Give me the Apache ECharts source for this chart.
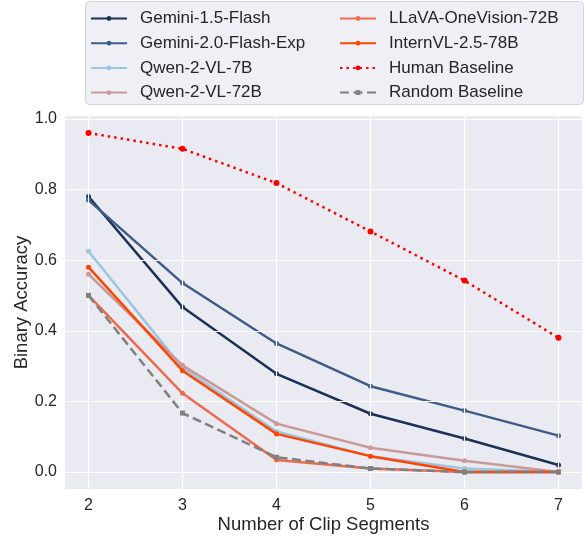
<!DOCTYPE html>
<html>
<head>
<meta charset="utf-8">
<script src="https://cdn.jsdelivr.net/npm/echarts@6/dist/echarts.min.js"></script>
<style>
  html, body { margin: 0; padding: 0; background: #fff; }
  #chart { width: 587px; height: 536px; }
</style>
</head>
<body>
<div id="chart"></div>
<script>
// clip segment counts
const segments = [2, 3, 4, 5, 6, 7]
const yTicks = [0, 0.2, 0.4, 0.6, 0.8, 1.0]

const gemini15 = [0.78, 0.467, 0.278, 0.165, 0.095, 0.02]
const gemini20 = [0.77, 0.535, 0.364, 0.243, 0.174, 0.103]
const qwen7b = [0.625, 0.295, 0.115, 0.045, 0.01, 0.0]
const qwen72b = [0.56, 0.302, 0.137, 0.069, 0.032, 0.0]
const llava72b = [0.5, 0.223, 0.034, 0.01, 0.0, 0.0]
const internvl78b = [0.58, 0.287, 0.108, 0.045, 0.0, 0.0]
const humanBase = [0.96, 0.915, 0.818, 0.681, 0.542, 0.38]
const randomBase = [0.5, 0.167, 0.042, 0.01, 0.0, 0.0]

const names = ['Gemini-1.5-Flash', 'Gemini-2.0-Flash-Exp', 'Qwen-2-VL-7B', 'Qwen-2-VL-72B',
    'LLaVA-OneVision-72B', 'InternVL-2.5-78B', 'Human Baseline', 'Random Baseline']
const values = [gemini15, gemini20, qwen7b, qwen72b, llava72b, internvl78b, humanBase, randomBase]
const colors = ['#1b3157', '#3f5c86', '#9bc6df', '#c89a98', '#ee6a4c', '#ff4500', '#ff0000', '#808080']

const pairs = arr => segments.map((s, i) => [s, arr[i]])

const series = names.map((name, i) => {
    let lineType = 'solid'
    if (name === 'Human Baseline') lineType = [2.5, 4]
    if (name === 'Random Baseline') lineType = [9, 4.5]
    return {
        name: name,
        type: 'line',
        data: pairs(values[i]),
        symbol: name === 'Random Baseline' ? 'rect' : 'circle',
        symbolSize: name === 'Human Baseline' ? 6 : 5,
        showSymbol: true,
        itemStyle: { color: colors[i] },
        lineStyle: { color: colors[i], width: 2.5, type: lineType },
        emphasis: { disabled: true },
        z: 3 + i
    }
})

// white grid lines like seaborn darkgrid
series.unshift({
    type: 'line',
    data: [],
    z: 1,
    silent: true,
    markLine: {
        silent: true,
        symbol: 'none',
        label: { show: false },
        lineStyle: { color: '#ffffff', width: 1.2, type: 'solid' },
        data: segments.map(s => ({ xAxis: s })).concat(yTicks.map(v => ({ yAxis: v })))
    }
})

const textColor = '#262626'
const legendCommon = {
    orient: 'vertical',
    top: 5,
    itemWidth: 36,
    itemHeight: 6,
    itemGap: 7.7,
    textStyle: { fontSize: 17, color: textColor, fontFamily: 'Liberation Sans', lineHeight: 17, padding: [0, 0, 0, 8] }
}

const isNear = (v, step) => Math.abs(v / step - Math.round(v / step)) < 1e-6

const myChart = echarts.init(document.getElementById('chart'))
myChart.setOption({
    animation: false,
    backgroundColor: '#ffffff',
    color: colors,
    graphic: [{
        type: 'rect',
        left: 85, top: 1,
        shape: { width: 498, height: 103, r: 4 },
        style: { fill: '#efeff5', stroke: '#d4d4d8', lineWidth: 1 },
        z: 0
    }],
    legend: [
        Object.assign({ left: 85, data: names.slice(0, 4) }, legendCommon),
        Object.assign({ left: 334, data: names.slice(4) }, legendCommon)
    ],
    grid: {
        left: 65, right: 5, top: 116, bottom: 47, show: true,
        backgroundColor: '#eaeaf2', borderWidth: 0, outerBoundsMode: 'none'
    },
    xAxis: {
        type: 'value',
        min: 1.75, max: 7.25,
        name: 'Number of Clip Segments',
        nameLocation: 'middle',
        nameGap: 26,
        nameMoveOverlap: false,
        nameTextStyle: { fontSize: 18.5, color: textColor, fontFamily: 'Liberation Sans' },
        axisLine: { show: false },
        axisTick: { show: false },
        splitLine: { show: false },
        axisLabel: {
            fontSize: 16, color: textColor, fontFamily: 'Liberation Sans', margin: 9,
            showMinLabel: false, showMaxLabel: false,
            formatter: v => isNear(v, 1) ? String(Math.round(v)) : ''
        }
    },
    yAxis: {
        type: 'value',
        min: -0.048, max: 1.008,
        name: 'Binary Accuracy',
        nameLocation: 'middle',
        nameGap: 34,
        nameMoveOverlap: false,
        nameTextStyle: { fontSize: 18.5, color: textColor, fontFamily: 'Liberation Sans' },
        axisLine: { show: false },
        axisTick: { show: false },
        splitLine: { show: false },
        axisLabel: {
            fontSize: 16, color: textColor, fontFamily: 'Liberation Sans', margin: 8,
            showMinLabel: false, showMaxLabel: false,
            formatter: v => isNear(v, 0.2) && v > -0.01 ? v.toFixed(1) : ''
        }
    },
    series: series
})
</script>
</body>
</html>
